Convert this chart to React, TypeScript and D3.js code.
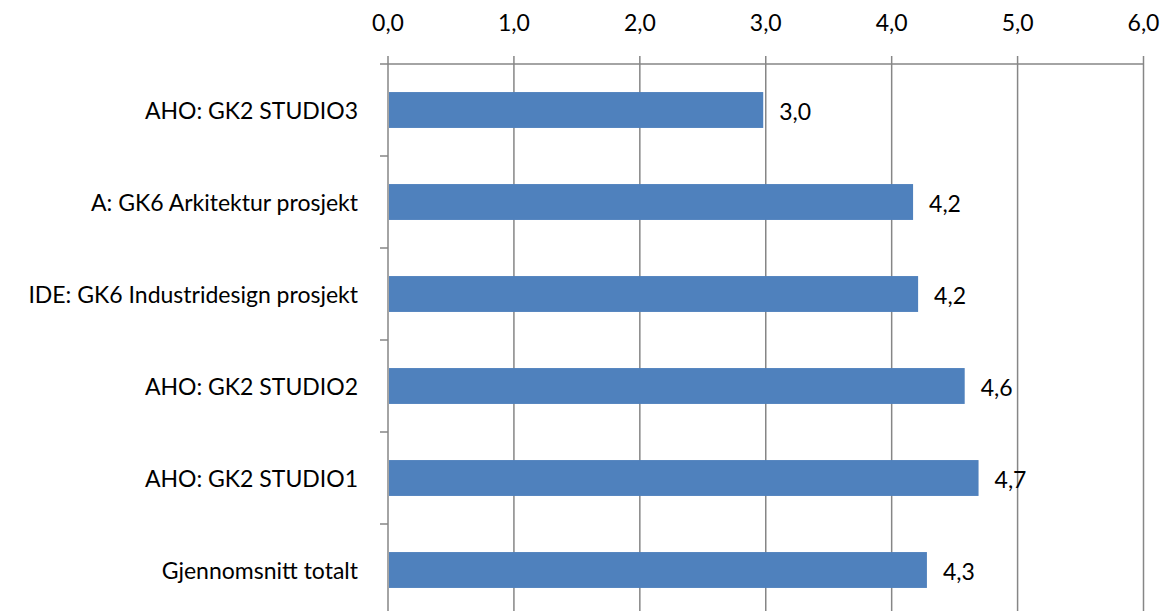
import React from "react";
import * as d3 from "d3";

const categories = [
  "AHO: GK2 STUDIO3",
  "A: GK6 Arkitektur prosjekt",
  "IDE: GK6 Industridesign prosjekt",
  "AHO: GK2 STUDIO2",
  "AHO: GK2 STUDIO1",
  "Gjennomsnitt totalt",
];
const values = [2.98, 4.17, 4.21, 4.58, 4.69, 4.28];
const valueLabels = ["3,0", "4,2", "4,2", "4,6", "4,7", "4,3"];
const ticks = [0, 1, 2, 3, 4, 5, 6];

const W = 1171;
const H = 611;
const FONT = "Lato, sans-serif";

export default function App() {
  const x = d3.scaleLinear().domain([0, 6]).range([388, 1143.5]);
  const y = d3.scaleBand<string>().domain(categories).range([64, 616]).paddingInner(0.61).paddingOuter(0.305);
  const yb = d3.scaleBand<string>().domain(categories).range([64, 616]);
  const fmt = (v: number) => d3.format(".1f")(v).replace(".", ",");
  const grid = "#868686";
  const fs = 23;
  return (
    <svg width={W} height={H} style={{ position: "absolute", left: 0, top: 0, background: "#fff" }} fontFamily={FONT}>
      {ticks.map((t) => (
        <g key={t}>
          <line x1={x(t)} x2={x(t)} y1={56} y2={616} stroke={grid} strokeWidth={1.5} />
          <text x={x(t)} y={22} textAnchor="middle" dominantBaseline="central" fontSize={fs} fill="#000">
            {fmt(t)}
          </text>
        </g>
      ))}
      <line x1={x(0)} x2={x(6)} y1={64} y2={64} stroke={grid} strokeWidth={1.5} />
      {categories.map((c, i) => (
        <line key={"t" + i} x1={380} x2={388} y1={yb(c)!} y2={yb(c)!} stroke={grid} strokeWidth={1.5} />
      ))}
      <line x1={380} x2={388} y1={616} y2={616} stroke={grid} strokeWidth={1.5} />
      {categories.map((c, i) => (
        <g key={c}>
          <rect x={x(0) + 1} y={y(c)!} width={x(values[i]) - x(0) - 1} height={y.bandwidth()} fill="#4F81BD" />
          <text x={x(values[i]) + 16} y={y(c)! + y.bandwidth() / 2 + 1} dominantBaseline="central" fontSize={fs} fill="#000">
            {valueLabels[i]}
          </text>
          <text x={358} y={yb(c)! + yb.bandwidth() / 2} textAnchor="end" dominantBaseline="central" fontSize={fs} fill="#000">
            {c}
          </text>
        </g>
      ))}
    </svg>
  );
}
